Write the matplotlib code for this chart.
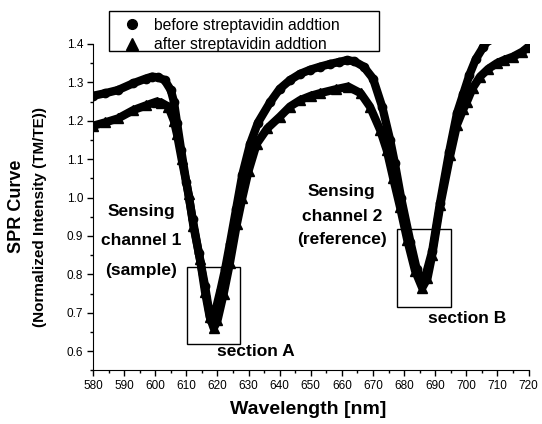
import matplotlib
matplotlib.use('Agg')
import matplotlib.pyplot as plt
from matplotlib.lines import Line2D
from matplotlib.patches import Rectangle
from matplotlib.ticker import MultipleLocator, FormatStrFormatter

plt.rcParams['font.family'] = ['Liberation Sans', 'DejaVu Sans']

# before streptavidin addition (circles)
wl_before = [580, 584, 588, 593, 597, 599, 601, 603, 605, 606, 607, 608.3, 610, 612, 614,
             616, 617.8, 619.5, 621, 622.5, 624, 626, 628, 630.5, 633, 636.9, 640, 643.3,
             646.5, 649.8, 653, 656.2, 659, 661.6, 664, 667, 670, 673, 675.5, 677, 679, 682,
             684, 685.3, 687, 689, 691.5, 694.5, 697, 699, 701, 703, 705.5, 707, 708.5]
val_before = [1.265, 1.272, 1.280, 1.298, 1.310, 1.315, 1.313, 1.306, 1.28, 1.25, 1.195, 1.125,
              1.04, 0.945, 0.855, 0.77, 0.68, 0.71, 0.76, 0.815, 0.88, 0.97, 1.06, 1.14, 1.195,
              1.248, 1.283, 1.306, 1.322, 1.333, 1.341, 1.348, 1.353, 1.358, 1.355, 1.341, 1.31,
              1.235, 1.15, 1.09, 1.0, 0.885, 0.815, 0.785, 0.80, 0.86, 0.985, 1.12, 1.22, 1.27,
              1.32, 1.36, 1.393, 1.41, 1.43]

# after streptavidin addition (triangles)
wl_after = [580, 584, 588, 593, 597, 600.5, 602, 604.2, 606, 607, 608.5, 610.7, 612.3, 614.4,
            616, 617.5, 618.8, 620, 622, 624, 626.2, 628, 630, 632.6, 636, 640.1, 643.3, 646.6,
            650, 653, 658, 662, 666, 669, 672.3, 674.4, 676.5, 678.7, 681, 683.5, 685.8, 687.5,
            689, 691.6, 694.8, 697, 699, 700.2, 702, 704.4, 707, 709.8, 712, 715, 718, 720]
val_after = [1.187, 1.196, 1.206, 1.228, 1.240, 1.250, 1.247, 1.237, 1.20, 1.165, 1.10, 1.01,
             0.925, 0.84, 0.755, 0.69, 0.66, 0.68, 0.75, 0.83, 0.93, 1.00, 1.07, 1.14, 1.18,
             1.211, 1.237, 1.254, 1.265, 1.272, 1.282, 1.289, 1.272, 1.237, 1.176, 1.124, 1.05,
             0.975, 0.89, 0.81, 0.765, 0.79, 0.85, 0.98, 1.11, 1.19, 1.23, 1.25, 1.285, 1.315,
             1.335, 1.35, 1.358, 1.367, 1.38, 1.393]

legend_labels = ['before streptavidin addtion', 'after streptavidin addtion']

W, H = 542, 424
fig = plt.figure(figsize=(W / 100, H / 100), dpi=100)
ax = fig.add_axes([93 / W, 1 - 370.4 / H, (528.6 - 93) / W, 326.4 / H])

ax.plot(wl_before, val_before, color='black', lw=6, marker='o', ms=6,
        solid_joinstyle='round', solid_capstyle='round')
ax.plot(wl_after, val_after, color='black', lw=6, marker='^', ms=7,
        solid_joinstyle='round', solid_capstyle='round')

ax.set_xlim(580, 720)
ax.set_ylim(0.55, 1.4)
ax.spines['top'].set_visible(False)
ax.spines['right'].set_visible(False)
ax.xaxis.set_major_locator(MultipleLocator(10))
ax.xaxis.set_minor_locator(MultipleLocator(5))
ax.yaxis.set_major_locator(MultipleLocator(0.1))
ax.yaxis.set_minor_locator(MultipleLocator(0.05))
ax.yaxis.set_major_formatter(FormatStrFormatter('%.1f'))
ax.tick_params(which='major', direction='out', length=4, width=1, labelsize=8.5, pad=3)
ax.tick_params(which='minor', direction='out', length=2, width=1)

# section boxes
ax.add_patch(Rectangle((610.3, 0.62), 17.1, 0.20, fill=False, lw=1, ec='black'))
ax.add_patch(Rectangle((677.8, 0.715), 17.2, 0.204, fill=False, lw=1, ec='black'))

tk = dict(ha='center', va='center', fontsize=12.5, fontweight='bold')
ax.text(595.6, 0.963, 'Sensing', **tk)
ax.text(595.6, 0.888, 'channel 1', **tk)
ax.text(595.6, 0.810, '(sample)', **tk)
ax.text(660.0, 1.015, 'Sensing', **tk)
ax.text(660.0, 0.952, 'channel 2', **tk)
ax.text(660.0, 0.890, '(reference)', **tk)
ax.text(632.4, 0.600, 'section A', **tk)
ax.text(700.4, 0.685, 'section B', **tk)

fig.text(308 / W, 1 - 410 / H, 'Wavelength [nm]', ha='center', va='center',
         fontsize=14, fontweight='bold')
fig.text(17 / W, 1 - 206 / H, 'SPR Curve', ha='center', va='center', rotation=90,
         fontsize=13, fontweight='bold')
fig.text(40 / W, 1 - 217 / H, '(Normalized Intensity (TM/TE))', ha='center', va='center',
         rotation=90, fontsize=11, fontweight='bold')

# legend frame (drawn separately to match the wide box of the original)
fig.patches.append(Rectangle((109 / W, 1 - 51 / H), 270 / W, 40 / H, transform=fig.transFigure,
                             fill=True, fc='white', ec='black', lw=1, zorder=5))
handles = [Line2D([], [], ls='none', marker='o', color='black', ms=7),
           Line2D([], [], ls='none', marker='^', color='black', ms=8)]
leg = fig.legend(handles, legend_labels, loc='upper left', bbox_to_anchor=(117.5 / W, 1 - 13 / H),
                 fontsize=11.3, frameon=False, borderaxespad=0, handlelength=1.2,
                 handletextpad=0.83, labelspacing=0.28, borderpad=0.3)
leg.set_zorder(6)

fig.savefig('out.png', dpi=100)
